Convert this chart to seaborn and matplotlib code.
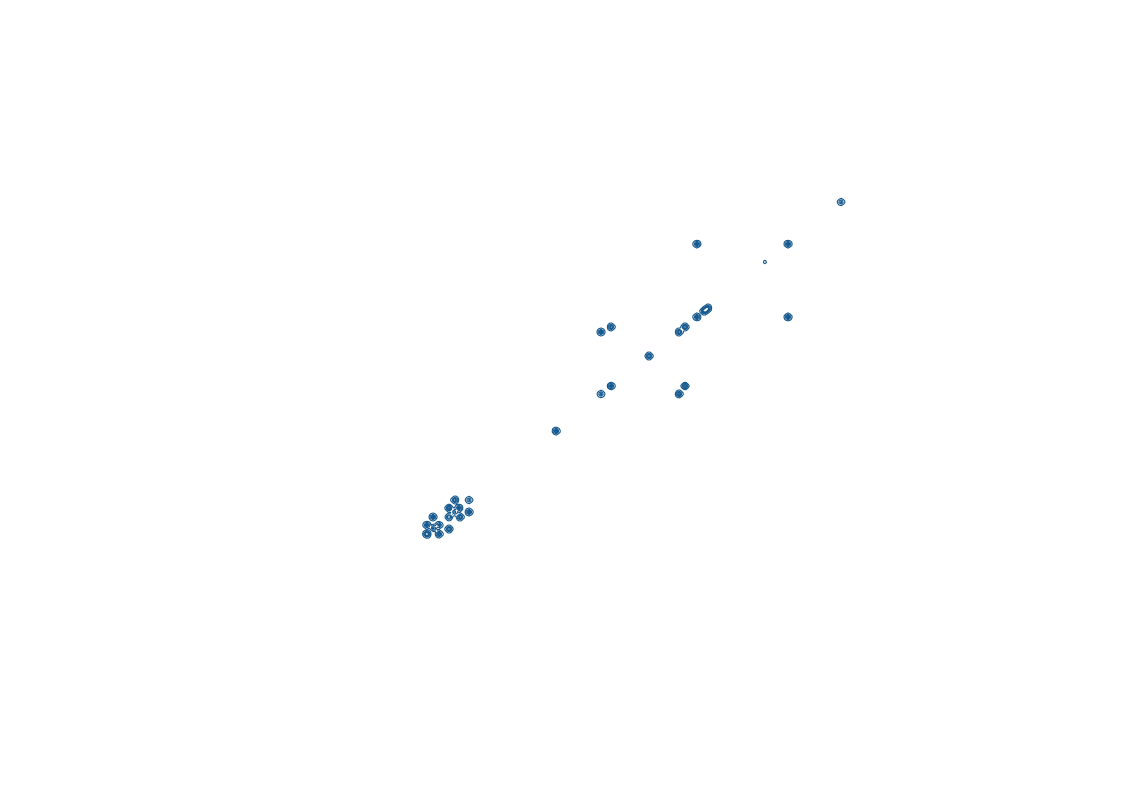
import numpy as np
import matplotlib
matplotlib.use("Agg")
import matplotlib.pyplot as plt
import seaborn as sns

# point positions (x right, y up, figure-pixel units)
xs = [455, 469, 449, 459, 455, 469, 433, 449, 460, 427, 439, 449, 427, 439, 434,
      556, 601, 611, 649, 601, 611, 679, 685, 679, 685, 697, 704, 708, 706,
      697, 788, 765, 788, 841]
ys = [291, 291, 283, 283, 279, 279, 274, 274, 274, 266, 266, 262, 257, 257, 263,
      360, 397, 405, 435, 459, 464, 397, 405, 459, 464, 474, 480, 483, 481,
      547, 547, 529, 474, 589]
wts = [1, 0.6, 1, 1, 0.7, 1, 1, 0.8, 1, 1, 0.8, 1, 1.6, 1, 0.8,
       1, 0.7, 1, 1, 1, 1, 1, 1, 1, 1, 1, 1, 1, 1,
       1, 1, 0.1, 1, 0.6]

SIGMA = 1.5  # kernel width in data units


def round_kernel(kde):
    # use a round kernel instead of the (very diagonal) data covariance
    iso = np.eye(2)
    kde._data_covariance = iso
    kde._data_cho_cov = iso.copy()
    kde._data_inv_cov = iso.copy()
    return SIGMA


fig = plt.figure(figsize=(11.33, 7.91), dpi=100)
ax = fig.add_axes([0, 0, 1, 1])
sns.kdeplot(x=xs, y=ys, weights=wts, bw_method=round_kernel, gridsize=200,
            levels=6, color="#15598f", linewidths=0.8, ax=ax)
ax.set_xlim(0, 1133)
ax.set_ylim(0, 791)
ax.axis("off")
fig.savefig("out.png", dpi=100)
